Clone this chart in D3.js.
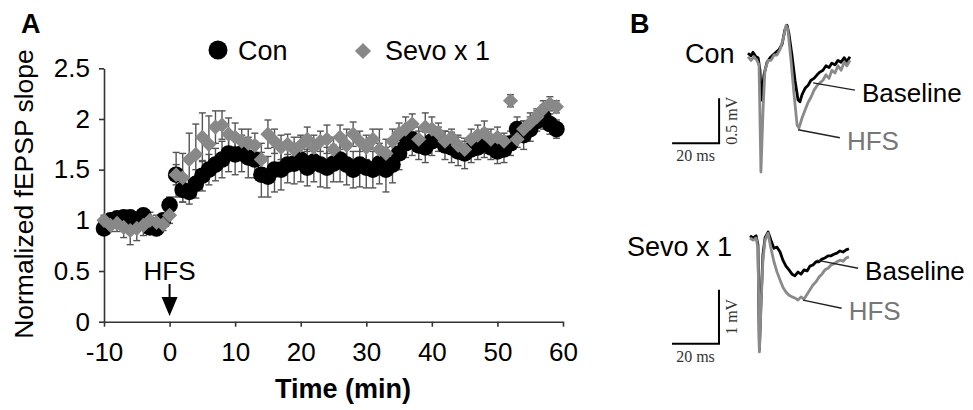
<!DOCTYPE html>
<html>
<head>
<meta charset="utf-8">
<script src="https://cdn.jsdelivr.net/npm/d3@7"></script>
<style>
  body { margin: 0; background: #fff; }
  text { font-family: "Liberation Sans", Arial, sans-serif; }
  .serif { font-family: "Liberation Serif", "Times New Roman", serif; }
</style>
</head>
<body>
<svg id="fig" width="973" height="410"></svg>
<script>
// === panel A data: normalized fEPSP slope, one point per minute
var times = [-10,-9,-8,-7,-6,-5,-4,-3,-2,-1,
  0,1,2,3,4,5,6,7,8,9,
  10,11,12,13,14,15,16,17,18,19,
  20,21,22,23,24,25,26,27,28,29,
  30,31,32,33,34,35,36,37,38,39,
  40,41,42,43,44,45,46,47,48,49,
  50,51,52,53,54,55,56,57,58,59];

var conMean = [0.92,1.00,1.02,1.03,1.03,1.00,1.05,0.93,0.92,1.00,
  1.15,1.45,1.30,1.28,1.36,1.44,1.50,1.55,1.60,1.66,
  1.65,1.66,1.62,1.60,1.45,1.43,1.50,1.50,1.55,1.56,
  1.60,1.52,1.58,1.55,1.52,1.56,1.60,1.55,1.50,1.55,
  1.52,1.50,1.56,1.50,1.55,1.66,1.76,1.80,1.74,1.72,
  1.78,1.80,1.74,1.72,1.68,1.66,1.70,1.72,1.76,1.72,
  1.68,1.70,1.76,1.90,1.84,1.90,1.98,2.02,1.95,1.90];

var conErr = [0.05,0.05,0.06,0.05,0.06,0.05,0.06,0.06,0.07,0.06,
  0.08,0.10,0.12,0.12,0.14,0.15,0.15,0.16,0.18,0.18,
  0.20,0.18,0.20,0.18,0.22,0.20,0.22,0.20,0.18,0.20,
  0.22,0.18,0.20,0.22,0.20,0.18,0.22,0.20,0.18,0.22,
  0.20,0.18,0.20,0.22,0.18,0.16,0.14,0.16,0.14,0.15,
  0.14,0.12,0.14,0.15,0.14,0.15,0.13,0.12,0.14,0.12,
  0.12,0.13,0.12,0.12,0.14,0.12,0.10,0.12,0.10,0.09];

var sevoMean = [1.00,0.95,0.97,0.93,0.90,0.92,0.95,1.00,0.98,0.96,
  1.05,1.45,1.42,1.60,1.65,1.82,1.75,1.92,1.94,1.85,
  1.82,1.78,1.76,1.74,1.60,1.85,1.78,1.72,1.75,1.70,
  1.74,1.80,1.72,1.78,1.80,1.70,1.82,1.74,1.85,1.78,
  1.72,1.80,1.70,1.66,1.78,1.86,1.90,1.95,1.80,1.92,
  1.90,1.86,1.78,1.82,1.74,1.70,1.80,1.84,1.86,1.80,
  1.82,1.78,2.18,1.80,1.90,1.96,2.02,2.10,2.15,2.12];

var sevoErr = [0.05,0.06,0.08,0.10,0.14,0.12,0.10,0.08,0.07,0.06,
  0.08,0.22,0.24,0.26,0.30,0.24,0.28,0.16,0.14,0.16,
  0.14,0.12,0.14,0.12,0.16,0.14,0.12,0.12,0.10,0.12,
  0.10,0.12,0.12,0.10,0.14,0.12,0.12,0.16,0.12,0.10,
  0.12,0.10,0.20,0.14,0.12,0.10,0.12,0.10,0.12,0.14,
  0.12,0.10,0.10,0.08,0.10,0.08,0.10,0.10,0.12,0.10,
  0.10,0.08,0.06,0.08,0.08,0.10,0.08,0.08,0.07,0.06];

var xTicks = [-10, 0, 10, 20, 30, 40, 50, 60];
var yTicks = [0, 0.5, 1, 1.5, 2, 2.5];
var seriesNames = ["Con", "Sevo x 1"];

// === panel B data: example traces [ms, mV]
var conBaseline = [[0,0.02],[1.3,-0.01],[2.1,0.03],[3.4,-0.02],[4.3,-0.03],[5.1,-0.17],[5.7,-0.5],
  [6.8,-0.22],[8.1,-0.08],[9.4,-0.03],[10.6,0],[11.9,0.03],[13.2,0.06],[14.5,0.12],[15.7,0.28],
  [16.6,0.33],[17.4,0.24],[18.7,0],[20,-0.28],[21.3,-0.5],[22.1,-0.52],[23,-0.44],[24.3,-0.37],
  [25.5,-0.34],[26.8,-0.28],[28.1,-0.26],[29.4,-0.22],[30.6,-0.19],[31.9,-0.17],[33.2,-0.12],
  [34.5,-0.14],[35.7,-0.09],[37,-0.11],[38.3,-0.06],[39.6,-0.08],[40.9,-0.03],[42.1,-0.07],[43.4,-0.02]];

var conHfs = [[0,-0.02],[1.3,-0.06],[2.6,-0.02],[3.8,-0.06],[4.7,-0.11],[5.5,-1.3],[6.4,-0.61],
  [7.2,-0.17],[8.5,-0.06],[9.8,-0.06],[11.1,0],[12.3,0],[13.6,0.06],[14.9,0.17],[16.2,0.33],
  [17,0.28],[18.3,-0.06],[19.6,-0.44],[20.9,-0.78],[21.7,-0.81],[23,-0.7],[24.3,-0.61],[25.5,-0.53],
  [26.8,-0.47],[28.1,-0.39],[29.4,-0.34],[30.6,-0.31],[31.9,-0.28],[33.2,-0.22],[34.5,-0.26],
  [35.7,-0.17],[37,-0.2],[38.3,-0.12],[39.6,-0.17],[40.9,-0.08],[42.1,-0.12],[43.4,-0.06]];

var sevoBaseline = [[0,0.04],[1.3,0],[2.6,0.04],[3.4,-0.13],[4,-2.07],[4.7,-1.15],[5.5,-0.31],
  [6.4,0],[7.7,0.11],[8.9,-0.04],[10.2,-0.19],[11.5,-0.17],[12.8,-0.26],[14,-0.41],[15.3,-0.52],
  [16.6,-0.59],[17.9,-0.67],[19.1,-0.7],[20.4,-0.63],[21.7,-0.67],[23,-0.59],[24.3,-0.61],
  [25.5,-0.52],[26.8,-0.5],[28.1,-0.44],[29.4,-0.44],[30.6,-0.39],[31.9,-0.37],[33.2,-0.33],
  [34.5,-0.33],[35.7,-0.3],[37,-0.28],[38.3,-0.24],[39.6,-0.26],[40.9,-0.22],[42.1,-0.2]];

var sevoHfs = [[0,0],[1.3,-0.04],[2.6,0],[3.4,-0.19],[4,-2.11],[4.7,-1.24],[5.5,-0.41],
  [6.4,-0.04],[7.7,0.09],[8.9,-0.19],[10.2,-0.44],[11.5,-0.63],[12.8,-0.78],[14,-0.91],[15.3,-1.0],
  [16.6,-1.06],[17.9,-1.09],[19.1,-1.11],[20.4,-1.15],[21.7,-1.09],[23,-1.13],[24.3,-1.04],
  [25.5,-0.96],[26.8,-0.87],[28.1,-0.81],[29.4,-0.72],[30.6,-0.67],[31.9,-0.59],[33.2,-0.56],
  [34.5,-0.5],[35.7,-0.48],[37,-0.44],[38.3,-0.41],[39.6,-0.43],[40.9,-0.37],[42.1,-0.35]];

// label pointers [from, to] in trace units
var conPointers = { Baseline: [[27.7,-0.31],[45.5,-0.39]], HFS: [[21.3,-0.83],[39.1,-0.92]] };
var sevoPointers = { Baseline: [[28.4,-0.41],[46,-0.56]], HFS: [[22.6,-1.15],[39,-1.3]] };

// scale bars: corner [ms, mV], lengths, labels
var conBar = { corner: [-12.3,-0.98], ms: 20, mv: 0.5, msLabel: "20 ms", mvLabel: "0.5 mV" };
var sevoBar = { corner: [-13.2,-1.96], ms: 20, mv: 1, msLabel: "20 ms", mvLabel: "1 mV" };

var svg = d3.select("#fig");
svg.append("rect").attr("width", 973).attr("height", 410).attr("fill", "#fff");

// ================= panel A =================
var x = d3.scaleLinear().domain([-10, 60]).range([104, 563]);
var y = d3.scaleLinear().domain([0, 2.5]).range([321.7, 68.3]);

var axisColor = "#333";

var gx = svg.append("g")
    .attr("transform", "translate(0," + y(0) + ")")
    .call(d3.axisBottom(x).tickValues(xTicks).tickFormat(function(d) { return String(d); })
      .tickSize(5).tickSizeOuter(0).tickPadding(16));
var gy = svg.append("g")
    .attr("transform", "translate(" + x(-10) + ",0)")
    .call(d3.axisLeft(y).tickValues(yTicks).tickFormat(function(d) { return String(d); })
      .tickSize(5).tickSizeOuter(0).tickPadding(9));

[gx, gy].forEach(function(g) {
  g.select(".domain").attr("stroke", axisColor).attr("stroke-width", 1.6);
  g.selectAll(".tick line").attr("stroke", axisColor).attr("stroke-width", 1.6);
  g.selectAll(".tick text").attr("fill", "#000")
    .style("font-family", "'Liberation Sans', Arial, sans-serif").style("font-size", "26px");
});
gx.selectAll(".tick text").attr("dy", "0.71em");

// axis titles
svg.append("text")
  .attr("x", 343).attr("y", 398)
  .attr("text-anchor", "middle")
  .attr("font-weight", "bold").attr("font-size", 27)
  .text("Time (min)");

svg.append("text")
  .attr("transform", "translate(33,194) rotate(-90)")
  .attr("text-anchor", "middle")
  .attr("font-size", 26.5)
  .text("Normalized fEPSP slope");

svg.append("text")
  .attr("x", 21).attr("y", 33)
  .attr("font-weight", "bold").attr("font-size", 27)
  .text("A");

// === error bars
var errColor = "#555";
function drawErr(mean, err) {
  var g = svg.append("g").attr("stroke", errColor).attr("stroke-width", 1.4);
  times.forEach(function(t, i) {
    var cx = x(t), lo = y(mean[i] - err[i]), hi = y(mean[i] + err[i]);
    g.append("line").attr("x1", cx).attr("x2", cx).attr("y1", lo).attr("y2", hi);
    g.append("line").attr("x1", cx - 3.5).attr("x2", cx + 3.5).attr("y1", lo).attr("y2", lo);
    g.append("line").attr("x1", cx - 3.5).attr("x2", cx + 3.5).attr("y1", hi).attr("y2", hi);
  });
}
drawErr(conMean, conErr);
drawErr(sevoMean, sevoErr);

// === markers: circles for Con, diamonds for Sevo
var sevoGray = "#888";
svg.append("g").selectAll("circle")
  .data(times).enter()
  .append("circle")
  .attr("cx", function(d) { return x(d); })
  .attr("cy", function(d, i) { return y(conMean[i]); })
  .attr("r", 8.3)
  .attr("fill", "#000");

var diamond = d3.symbol().type(d3.symbolSquare).size(115);
svg.append("g").selectAll("path")
  .data(times).enter()
  .append("path")
  .attr("d", diamond)
  .attr("transform", function(d, i) {
    return "translate(" + x(d) + "," + y(sevoMean[i]) + ") rotate(45)";
  })
  .attr("fill", sevoGray);

// === legend
svg.append("circle").attr("cx", 218).attr("cy", 50).attr("r", 9.5).attr("fill", "#000");
svg.append("text").attr("x", 238).attr("y", 60).attr("font-size", 27).text(seriesNames[0]);
svg.append("path")
  .attr("d", d3.symbol().type(d3.symbolSquare).size(130))
  .attr("transform", "translate(363,51) rotate(45)")
  .attr("fill", sevoGray);
svg.append("text").attr("x", 385).attr("y", 60).attr("font-size", 27).text(seriesNames[1]);

// === HFS arrow at t = 0
svg.append("text")
  .attr("x", x(0)).attr("y", 280)
  .attr("text-anchor", "middle").attr("font-size", 26)
  .text("HFS");
svg.append("line")
  .attr("x1", x(0)).attr("x2", x(0)).attr("y1", 284).attr("y2", 302)
  .attr("stroke", "#000").attr("stroke-width", 2);
svg.append("path")
  .attr("d", "M" + (x(0) - 8) + ",297 L" + (x(0) + 8) + ",297 L" + x(0) + ",316 Z")
  .attr("fill", "#000");

// ================= panel B =================
svg.append("text")
  .attr("x", 630).attr("y", 33)
  .attr("font-weight", "bold").attr("font-size", 27)
  .text("B");

function drawTraces(opts) {
  var sx = d3.scaleLinear().domain([0, 20]).range([opts.x0, opts.x0 + 47]);
  var sy = d3.scaleLinear().domain([0, opts.unit]).range([opts.y0, opts.y0 - opts.pxPerUnit * opts.unit]);
  var line = d3.line().x(function(d) { return sx(d[0]); }).y(function(d) { return sy(d[1]); });

  svg.append("text")
    .attr("x", opts.labelX).attr("y", opts.labelY)
    .attr("font-size", 27).text(opts.name);

  svg.append("path").datum(opts.baseline)
    .attr("d", line).attr("fill", "none")
    .attr("stroke", "#000").attr("stroke-width", 2.8).attr("stroke-linejoin", "round");
  svg.append("path").datum(opts.hfs)
    .attr("d", line).attr("fill", "none")
    .attr("stroke", "#8a8a8a").attr("stroke-width", 2.8).attr("stroke-linejoin", "round");

  // pointers and their labels
  [["Baseline", "#000"], ["HFS", "#777"]].forEach(function(p) {
    var seg = opts.pointers[p[0]];
    svg.append("line")
      .attr("x1", sx(seg[0][0])).attr("y1", sy(seg[0][1]))
      .attr("x2", sx(seg[1][0])).attr("y2", sy(seg[1][1]))
      .attr("stroke", "#222").attr("stroke-width", 1.4);
    svg.append("text")
      .attr("x", sx(seg[1][0]) + 7).attr("y", sy(seg[1][1]) + 12)
      .attr("font-size", 26).attr("fill", p[1])
      .text(p[0]);
  });

  // scale bar
  var b = opts.bar;
  var cx = sx(b.corner[0]), cy = sy(b.corner[1]);
  svg.append("path")
    .attr("d", "M" + sx(b.corner[0] - b.ms) + "," + cy + " L" + cx + "," + cy +
      " L" + cx + "," + sy(b.corner[1] + b.mv))
    .attr("fill", "none").attr("stroke", "#000").attr("stroke-width", 2);
  svg.append("text").attr("class", "serif")
    .attr("x", (sx(b.corner[0] - b.ms) + cx) / 2).attr("y", cy + 18)
    .attr("text-anchor", "middle").attr("font-size", 16).attr("fill", "#333")
    .text(b.msLabel);
  svg.append("text").attr("class", "serif")
    .attr("transform", "translate(" + (cx + 18) + "," + ((cy + sy(b.corner[1] + b.mv)) / 2) + ") rotate(-90)")
    .attr("text-anchor", "middle").attr("font-size", 16).attr("fill", "#333")
    .text(b.mvLabel);
}

drawTraces({ name: "Con", labelX: 685, labelY: 63, x0: 748, y0: 55, unit: 0.5, pxPerUnit: 90,
  baseline: conBaseline, hfs: conHfs, pointers: conPointers, bar: conBar });
drawTraces({ name: "Sevo x 1", labelX: 627, labelY: 256, x0: 750, y0: 238, unit: 1, pxPerUnit: 54,
  baseline: sevoBaseline, hfs: sevoHfs, pointers: sevoPointers, bar: sevoBar });
</script>
</body>
</html>
